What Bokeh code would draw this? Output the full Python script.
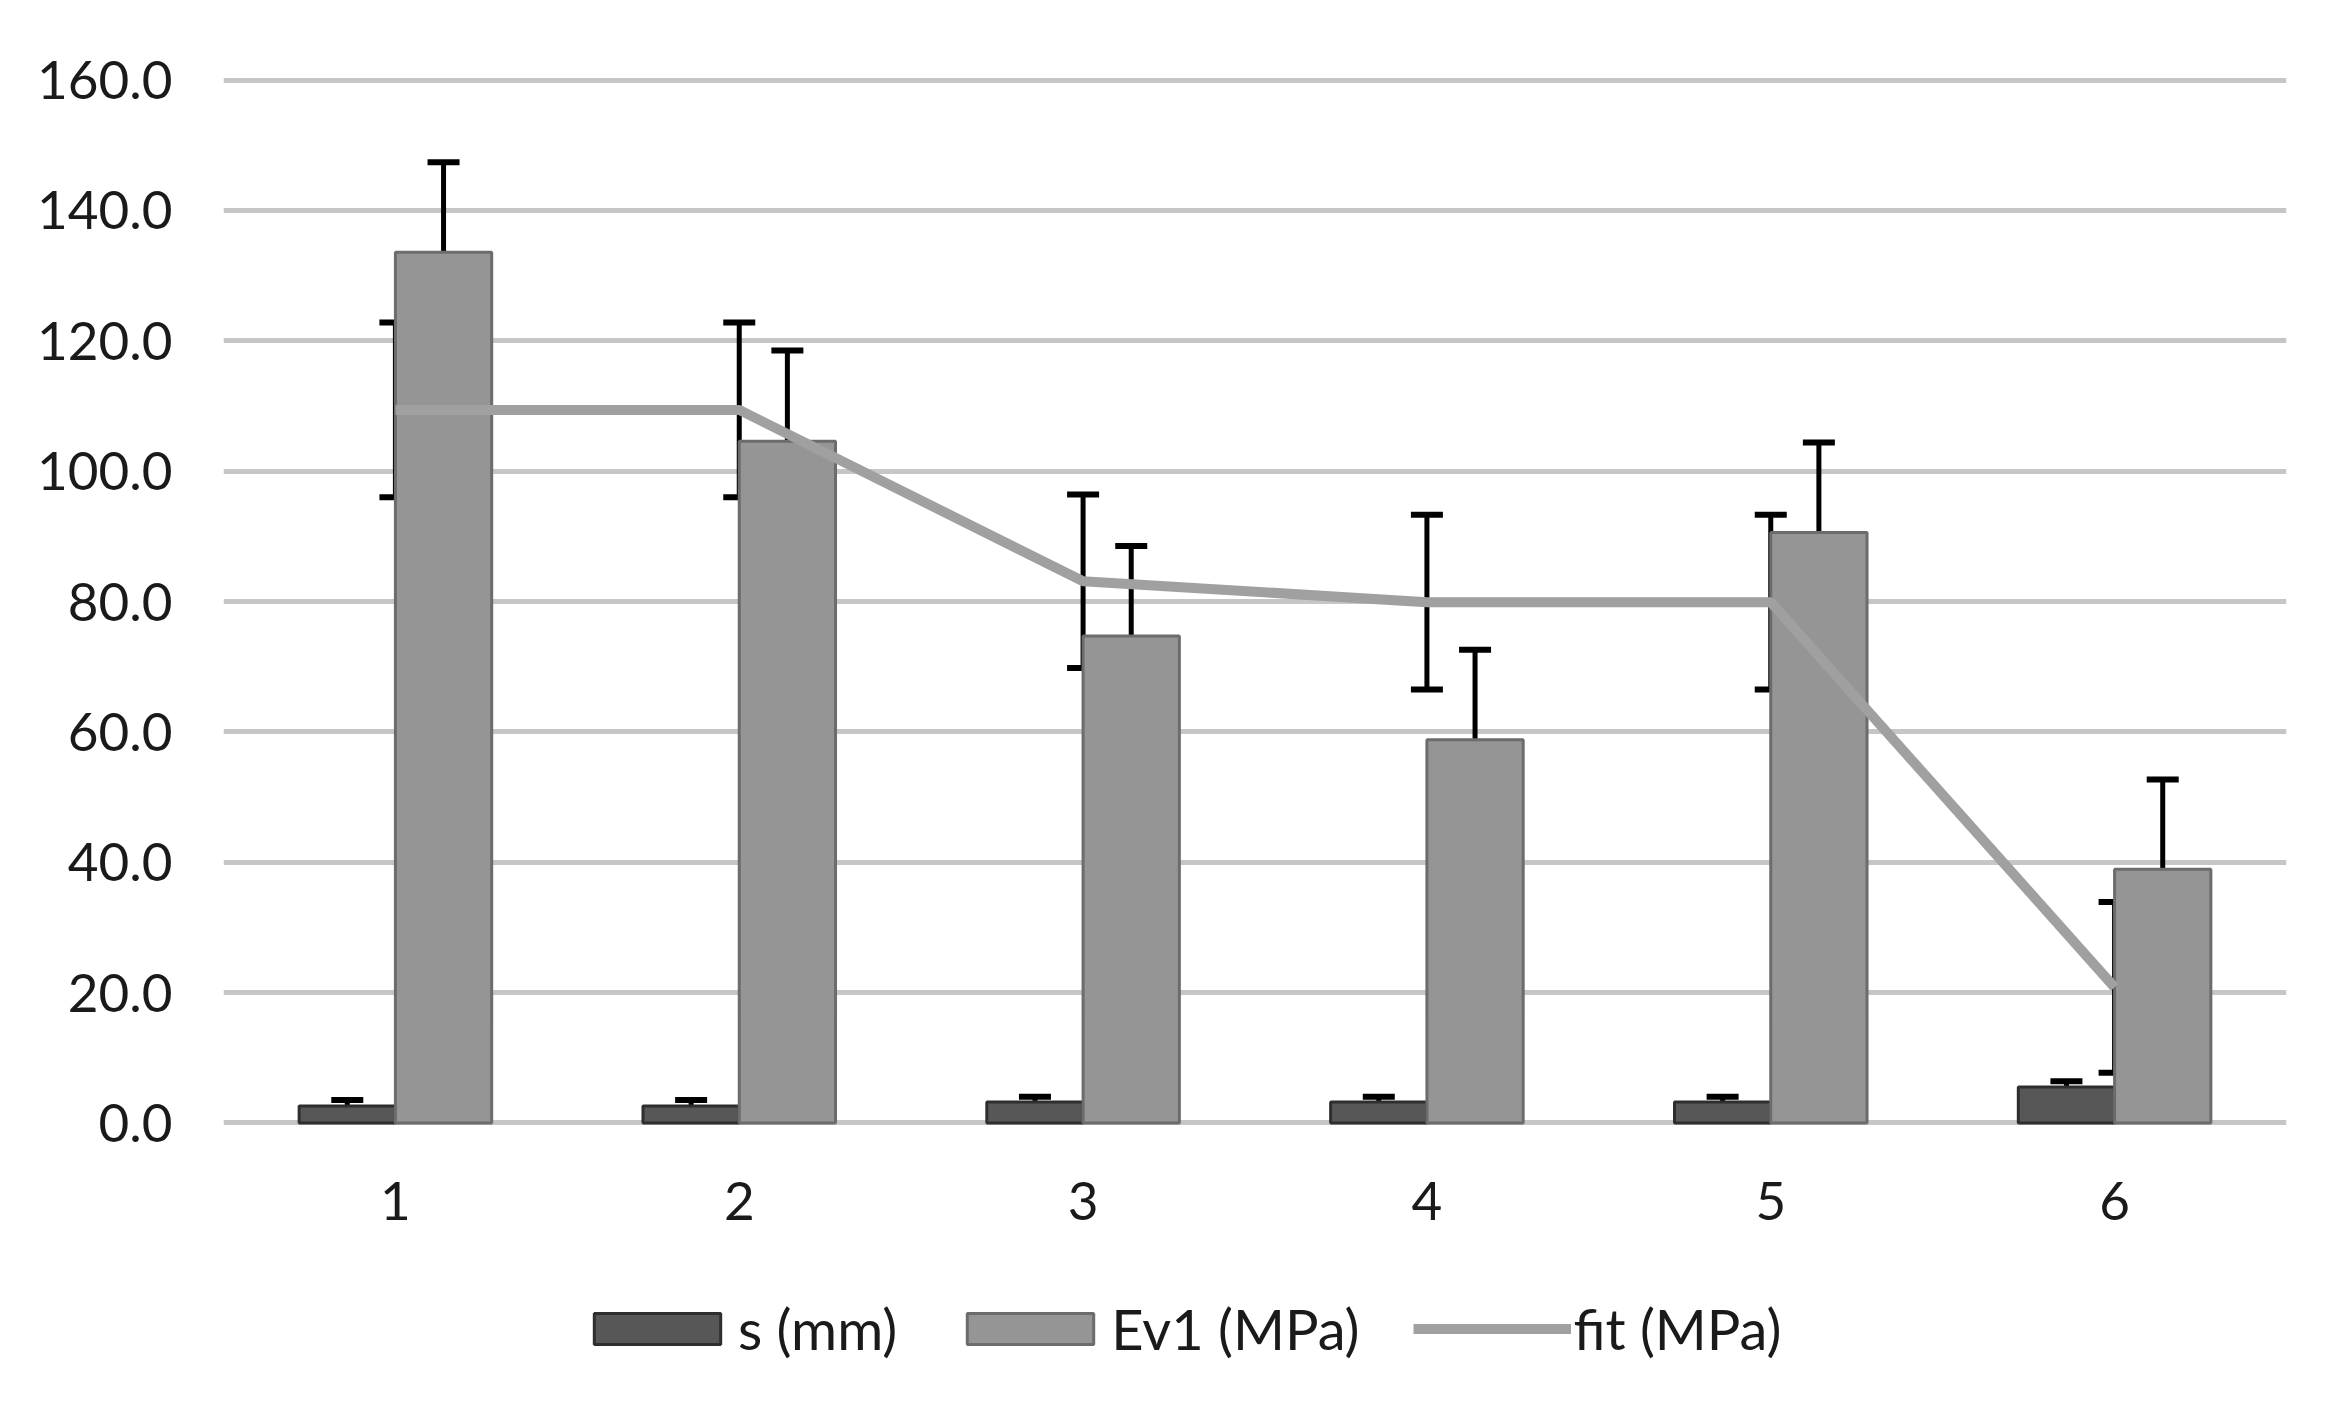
from bokeh.plotting import figure
from bokeh.models import (ColumnDataSource, Range1d, FixedTicker, NumeralTickFormatter,
                          Whisker, TeeHead, Legend, LegendItem)
from bokeh.layouts import column
from bokeh.transform import dodge
from bokeh.embed import file_html
from bokeh.resources import INLINE

categories = [1, 2, 3, 4, 5, 6]
s_mm = [2.6, 2.6, 3.2, 3.2, 3.2, 5.5]
s_err = [0.9, 0.9, 0.8, 0.8, 0.8, 0.9]
ev1_mpa = [133.6, 104.6, 74.7, 58.8, 90.6, 38.9]
ev1_err = [13.8, 13.9, 13.8, 13.8, 13.8, 13.8]
fit_mpa = [109.4, 109.4, 83.1, 79.9, 79.9, 20.8]
fit_err = [13.4, 13.4, 13.3, 13.4, 13.4, 13.1]
y_ticks = [0, 20, 40, 60, 80, 100, 120, 140, 160]
series_labels = ["s (mm)", "Ev1 (MPa)", "fit (MPa)"]

src = ColumnDataSource(dict(
    x=categories, s=s_mm, s_up=[a + b for a, b in zip(s_mm, s_err)],
    ev=ev1_mpa, ev_lo=[a - b for a, b in zip(ev1_mpa, ev1_err)],
    ev_up=[a + b for a, b in zip(ev1_mpa, ev1_err)],
    fit=fit_mpa, fit_lo=[a - b for a, b in zip(fit_mpa, fit_err)],
    fit_up=[a + b for a, b in zip(fit_mpa, fit_err)],
))

FONT = "Lato"
S_STYLE = dict(fill_color="#575757", line_color="#2e2e2e", line_width=3)
E_STYLE = dict(fill_color="#959595", line_color="#6c6c6c", line_width=3)
F_STYLE = dict(line_color="#a0a0a0", line_width=10)

p = figure(width=2334, height=1270, output_backend="svg", toolbar_location=None,
           x_range=Range1d(0.5, 6.5), y_range=Range1d(-0.4, 160.4),
           min_border_left=223, min_border_top=77, min_border_right=48, min_border_bottom=145)
p.outline_line_color = None
p.background_fill_color = "white"

p.xaxis.ticker = FixedTicker(ticks=categories)
p.yaxis.ticker = FixedTicker(ticks=y_ticks)
p.yaxis.formatter = NumeralTickFormatter(format="0.0")
for ax in (p.xaxis, p.yaxis):
    ax.axis_line_color = None
    ax.major_tick_line_color = None
    ax.minor_tick_line_color = None
    ax.major_tick_out = 0
    ax.major_tick_in = 0
    ax.major_label_text_font = FONT
    ax.major_label_text_font_size = "53px"
    ax.major_label_text_color = "#1a1a1a"
p.yaxis.major_label_standoff = 51
p.xaxis.major_label_standoff = 56
p.xgrid.grid_line_color = None
p.ygrid.grid_line_color = "#c6c6c6"
p.ygrid.grid_line_width = 5

bw = 0.28
p.vbar(x=dodge("x", -bw / 2, range=p.x_range), top="s", width=bw, source=src, **S_STYLE)
p.vbar(x=dodge("x", bw / 2, range=p.x_range), top="ev", width=bw, source=src, **E_STYLE)
p.line(x="x", y="fit", source=src, **F_STYLE)

head = dict(size=32, line_width=6, line_color="black")
p.add_layout(Whisker(base=dodge("x", -bw / 2, range=p.x_range), lower="s", upper="s_up", source=src,
                     line_color="black", line_width=5, lower_head=None,
                     upper_head=TeeHead(**head)))
p.add_layout(Whisker(base=dodge("x", bw / 2, range=p.x_range), lower="ev_lo", upper="ev_up", source=src,
                     line_color="black", line_width=5,
                     lower_head=TeeHead(size=32, line_width=6, line_color="#1e1e1e"),
                     upper_head=TeeHead(**head)))
p.add_layout(Whisker(base="x", lower="fit_lo", upper="fit_up", source=src,
                     line_color="black", line_width=5,
                     lower_head=TeeHead(**head), upper_head=TeeHead(**head)))

# legend strip below the chart (its renderers hold no drawable data)
nan = float("nan")
pl = figure(width=2334, height=131, output_backend="svg", toolbar_location=None,
            x_range=Range1d(0, 1), y_range=Range1d(0, 1), x_axis_type=None, y_axis_type=None,
            min_border_left=0, min_border_right=0, min_border_top=0, min_border_bottom=0)
pl.outline_line_color = None
pl.xgrid.visible = False
pl.ygrid.visible = False
l_s = pl.vbar(x=[nan], top=[nan], width=0.1, **S_STYLE)
l_e = pl.vbar(x=[nan], top=[nan], width=0.1, **E_STYLE)
l_f = pl.line(x=[nan, nan], y=[nan, nan], **F_STYLE)
legend = Legend(items=[LegendItem(label=series_labels[0], renderers=[l_s]),
                       LegendItem(label=series_labels[1], renderers=[l_e]),
                       LegendItem(label=series_labels[2], renderers=[l_f])],
                orientation="horizontal", location=(355, 39),
                glyph_width=158, glyph_height=39, label_standoff=2, spacing=54,
                label_text_font=FONT, label_text_font_size="56px", label_text_color="#1a1a1a",
                border_line_color=None, background_fill_alpha=0, padding=0, margin=0)
pl.add_layout(legend, "center")

open("out.html", "w").write(file_html(column(p, pl, spacing=0), INLINE))
